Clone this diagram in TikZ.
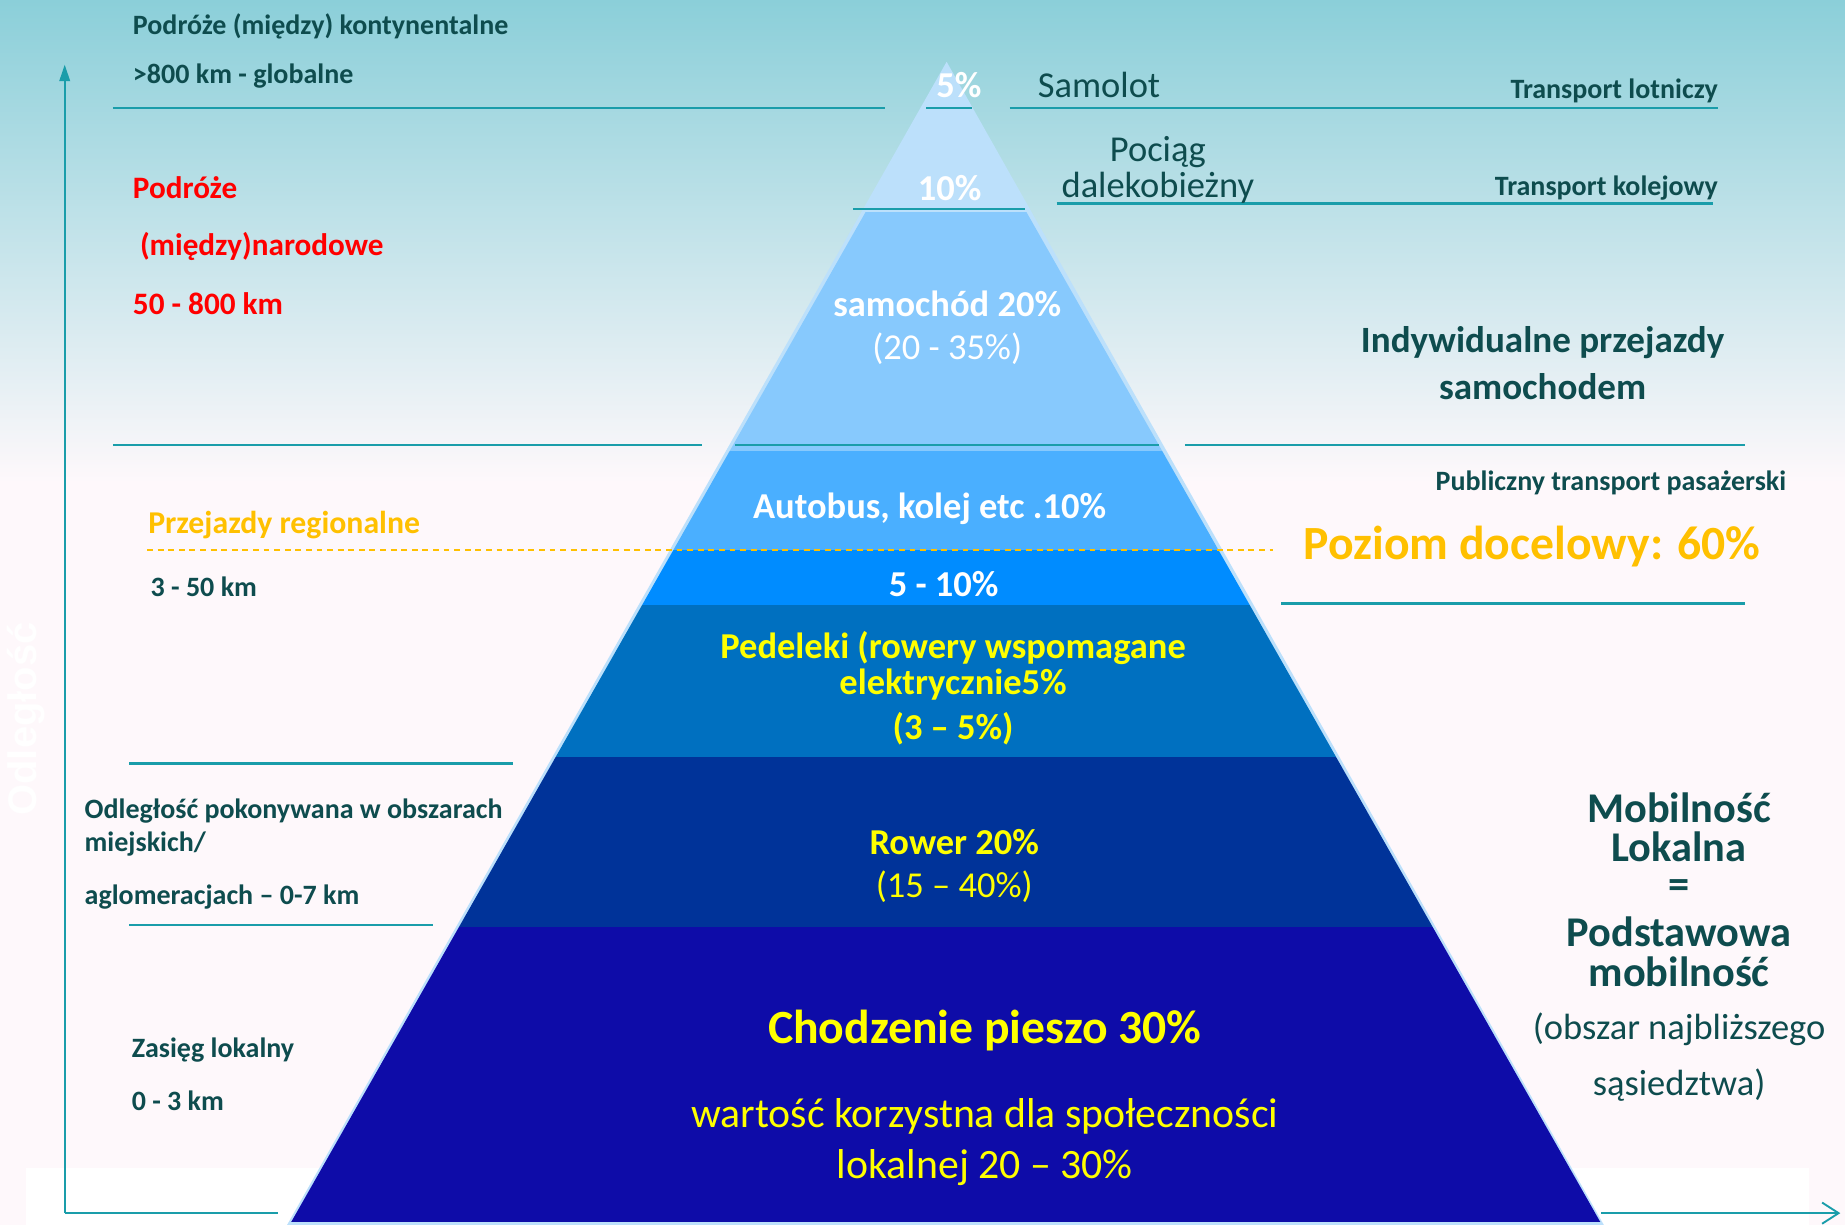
\documentclass[tikz,border=0pt]{standalone}
\usepackage{fontspec}
\setmainfont{Carlito}
\newfontfamily\arialfont{Liberation Sans}
\usetikzlibrary{arrows.meta}
\definecolor{bgtop}{HTML}{8BCFD9}
\definecolor{bgpink}{HTML}{FEF8FB}
\definecolor{tealline}{HTML}{1A9DAA}
\definecolor{dk}{HTML}{0E4C4E}
\definecolor{orng}{HTML}{FFC000}
\definecolor{yel}{HTML}{FFFF00}
\definecolor{lightT}{HTML}{BCE0FB}
\definecolor{carC}{HTML}{87C9FD}
\definecolor{busC}{HTML}{4AAFFF}
\definecolor{fiveC}{HTML}{008CFF}
\definecolor{pedC}{HTML}{0070C0}
\definecolor{rowC}{HTML}{003399}
\definecolor{walkC}{HTML}{0E0CA8}
\newcommand\myfs[1]{\fontsize{#1}{#1}\selectfont}
\tikzset{
  txt/.style={inner sep=0pt, outer sep=0pt, yshift=-2.5pt},
  smallb/.style={txt, text=dk, font=\bfseries\myfs{23.8}},
  redb/.style={txt, text=red, font=\bfseries\myfs{26.5}},
  tierb/.style={txt, text=white, font=\bfseries\myfs{31}},
  tierr/.style={txt, text=white, font=\myfs{31}},
  yelb/.style={txt, text=yel, font=\bfseries\myfs{31}},
  yelr/.style={txt, text=yel, font=\myfs{31}},
  dkr/.style={txt, text=dk, font=\myfs{31}},
  dkb/.style={txt, text=dk, font=\bfseries\myfs{31.5}},
  mobb/.style={txt, text=dk, font=\bfseries\myfs{36}},
  tline/.style={draw=tealline, line width=2pt},
}
\begin{document}
\begin{tikzpicture}[x=1pt,y=-1pt]
\useasboundingbox (0,0) rectangle (1568,1041);
% background
\shade[top color=bgtop, bottom color=bgpink] (0,0) rectangle (1568,410);
\fill[bgpink] (0,409) rectangle (1568,1041);
\fill[white] (22,993) rectangle (1537,1041);
% vertical label
\node[inner sep=0pt, rotate=90, text=white, font=\arialfont\bfseries\myfs{34}] (odl) at (22,611) {Odległość};
% pyramid
\fill[lightT] (804.5,52.5) -- (1363,1041) -- (244,1041) -- cycle;
\begin{scope}
  \clip (804,60) -- (1360,1038.5) -- (247.5,1038.5) -- cycle;
  \fill[carC] (0,180) rectangle (1568,383);
  \fill[busC] (0,383) rectangle (1568,467);
  \fill[fiveC] (0,467) rectangle (1568,514);
  \fill[pedC] (0,514) rectangle (1568,643);
  \fill[rowC] (0,643) rectangle (1568,788);
  \fill[walkC] (0,788) rectangle (1568,1041);
\end{scope}
% axes
\coordinate (ax0) at (55,1031);
\coordinate (axtop) at (55,55);
\coordinate (axl) at (236,1031);
\coordinate (axr0) at (1361,1031);
\coordinate (axr1) at (1564,1031);
\draw[draw=tealline, line width=1.6pt, -{Triangle[length=14pt,width=9pt]}] (ax0) -- (axtop);
\draw[draw=tealline, line width=1.8pt] (ax0) -- (axl);
\draw[draw=tealline, line width=1.6pt, -{Straight Barb[length=14pt,width=18pt,line width=1.6pt]}] (axr0) -- (axr1);
% teal horizontal lines
\coordinate (a1) at (96,92);   \coordinate (a2) at (752,92);
\coordinate (a3) at (787,92);  \coordinate (a4) at (826,92);
\coordinate (a5) at (858,92);  \coordinate (a6) at (1460,92);
\coordinate (b1) at (725,177.6); \coordinate (b2) at (871,177.6);
\coordinate (b3) at (898,173); \coordinate (b4) at (1456,173);
\coordinate (c1) at (96,378);  \coordinate (c2) at (597,378);
\coordinate (c3) at (625,378); \coordinate (c4) at (985,378);
\coordinate (c5) at (1007,378); \coordinate (c6) at (1483,378);
\coordinate (d1) at (1089,513); \coordinate (d2) at (1483,513);
\coordinate (e1) at (110,649); \coordinate (e2) at (436,649);
\coordinate (f1) at (110,786); \coordinate (f2) at (368,786);
\draw[tline] (a1) -- (a2); \draw[tline] (a3) -- (a4); \draw[tline] (a5) -- (a6);
\draw[tline] (b1) -- (b2); \draw[tline] (b3) -- (b4);
\draw[tline] (c1) -- (c2); \draw[tline] (c3) -- (c4); \draw[tline] (c5) -- (c6);
\draw[tline] (d1) -- (d2);
\draw[tline] (e1) -- (e2);
\draw[tline] (f1) -- (f2);
% dashed regional line
\coordinate (g1) at (125,467.5); \coordinate (g2) at (1082,467.5);
\draw[draw=orng, line width=1.8pt, dash pattern=on 5pt off 4pt] (g1) -- (g2);
% left texts
\node[smallb, anchor=west] (l1) at (113,20) {Podróże (między) kontynentalne};
\node[smallb, anchor=west] (l2) at (113,62) {>800 km - globalne};
\node[redb, anchor=west] (l3) at (113,157) {Podróże};
\node[redb, anchor=west] (l4) at (113,207) {\ (między)narodowe};
\node[redb, anchor=west] (l5) at (113,256) {50 - 800 km};
\node[txt, text=orng, font=\bfseries\myfs{27}, anchor=west] (l6) at (126,444) {Przejazdy regionalne};
\node[smallb, anchor=west] (l7) at (128,496) {3 - 50 km};
\node[smallb, anchor=west] (l8) at (72,687) {Odległość pokonywana w obszarach};
\node[smallb, anchor=west] (l9) at (72,715) {miejskich/};
\node[smallb, anchor=west] (l10) at (72,760) {aglomeracjach – 0-7 km};
\node[smallb, anchor=west] (l11) at (112,890) {Zasięg lokalny};
\node[smallb, anchor=west] (l12) at (112,933) {0 - 3 km};
% pyramid texts
\node[tierb] (p5) at (815,70) {5\%};
\node[tierb] (p10) at (807,157) {10\%};
\node[tierb] (pc1) at (805,256) {samochód 20\%};
\node[tierr] (pc2) at (805,294) {(20 - 35\%)};
\node[tierb] (pb) at (790,430) {Autobus, kolej etc .10\%};
\node[tierb] (pf) at (802,494) {5 - 10\%};
\node[yelb] (pe1) at (810,548) {Pedeleki (rowery wspomagane};
\node[yelb] (pe2) at (810,579) {elektrycznie5\%};
\node[yelb] (pe3) at (810,617) {(3 – 5\%)};
\node[yelb] (pr1) at (811,713) {Rower 20\%};
\node[yelr] (pr2) at (811,751) {(15 – 40\%)};
\node[txt, text=yel, font=\bfseries\myfs{40.5}] (pw1) at (837,873) {Chodzenie pieszo 30\%};
\node[txt, text=yel, font=\myfs{35.5}] (pw2) at (837,946) {wartość korzystna dla społeczności};
\node[txt, text=yel, font=\myfs{35.5}] (pw3) at (837,990) {lokalnej 20 – 30\%};
% right texts
\node[dkr, anchor=west] (r1) at (882,70) {Samolot};
\node[smallb, anchor=east] (r2) at (1460,75) {Transport lotniczy};
\node[dkr] (r3) at (984,127) {Pociąg};
\node[dkr] (r4) at (984,157) {dalekobieżny};
\node[smallb, anchor=east] (r5) at (1460,157) {Transport kolejowy};
\node[dkb] (r6) at (1311,289) {Indywidualne przejazdy};
\node[dkb] (r7) at (1311,326) {samochodem};
\node[smallb, anchor=east] (r8) at (1518,408) {Publiczny transport pasażerski};
\node[txt, text=orng, font=\bfseries\myfs{40.5}, anchor=west] (r9) at (1108,462) {Poziom docelowy: 60\%};
\node[mobb] (m1) at (1427,684) {Mobilność};
\node[mobb] (m2) at (1427,717) {Lokalna};
\node[mobb] (m3) at (1427,753) {=};
\node[mobb] (m4) at (1427,789) {Podstawowa};
\node[mobb] (m5) at (1427,823) {mobilność};
\node[dkr] (m6) at (1427,872) {(obszar najbliższego};
\node[dkr] (m7) at (1427,920) {sąsiedztwa)};
\end{tikzpicture}
\end{document}
